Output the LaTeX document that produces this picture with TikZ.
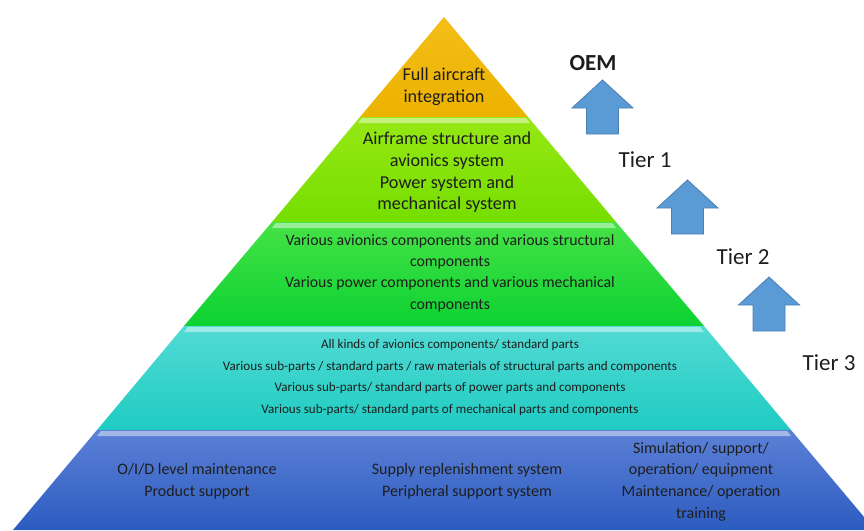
\documentclass[tikz,border=0pt]{standalone}
\usepackage{fontspec}
\setmainfont{Carlito}
\definecolor{txt}{HTML}{1E1E1E}
\definecolor{arrowfill}{HTML}{5B9BD5}
\definecolor{arrowedge}{HTML}{4A7FB5}
\begin{document}
\begin{tikzpicture}[x=1pt,y=-1pt,
  every node/.style={text=txt, align=center, inner sep=0pt},
  big/.style={font=\fontsize{18.2}{21.7}\selectfont},
  mid/.style={font=\fontsize{15.8}{21.3}\selectfont},
  small/.style={font=\fontsize{13.1}{21.5}\selectfont},
  base/.style={font=\fontsize{16}{21.7}\selectfont},
  tier/.style={font=\fontsize{23}{26}\selectfont},
  shine/.style={fill=white, fill opacity=0.45, draw=none},
  pics/uparrow/.style={code={
    \draw[fill=arrowfill, draw=arrowedge, line width=0.8pt, line join=miter]
      (-30.5,0) -- (0,-28) -- (30.5,0) -- (16,0) -- (16,26) -- (-16,26) -- (-16,0) -- cycle;}}
]
\useasboundingbox (0,0) rectangle (864,530);
\fill[white] (0,0) rectangle (864,530);

% pyramid layers (edge slope 0.84 from the apex at (444,17))
\shade[top color={rgb,255:red,244;green,190;blue,24}, bottom color={rgb,255:red,236;green,178;blue,0}]
  (444,17) -- (528,117) -- (360,117) -- cycle;
\shade[top color={rgb,255:red,150;green,232;blue,20}, bottom color={rgb,255:red,118;green,222;blue,0}]
  (360,117) -- (528,117) -- (616,222) -- (272,222) -- cycle;
\shade[top color={rgb,255:red,70;green,226;blue,70}, bottom color={rgb,255:red,12;green,210;blue,50}]
  (272,222) -- (616,222) -- (704,326) -- (184,326) -- cycle;
\shade[top color={rgb,255:red,82;green,218;blue,212}, bottom color={rgb,255:red,30;green,204;blue,194}]
  (184,326) -- (704,326) -- (791,430) -- (97,430) -- cycle;
\shade[top color={rgb,255:red,92;green,128;blue,214}, bottom color={rgb,255:red,44;green,92;blue,192}]
  (97,430) -- (791,430) -- (875,530) -- (13,530) -- cycle;

% bevel highlights along the top of each lower layer
\fill[shine] (362,118) -- (526,118) -- (530,123) -- (358,123) -- cycle;
\fill[shine] (276,223) -- (612,223) -- (616,228) -- (272,228) -- cycle;
\fill[shine] (188,327) -- (700,327) -- (704,332) -- (184,332) -- cycle;
\fill[shine] (101,431) -- (787,431) -- (791,436) -- (97,436) -- cycle;

% layer texts
\node[big] (oem) at (444,87) {Full aircraft\\integration};
\node[big] (tierone) at (447,172.5) {Airframe structure and\\avionics system\\Power system and\\mechanical system};
\node[mid] (tiertwo) at (450,273) {Various avionics components and various structural\\components\\Various power components and various mechanical\\components};
\node[small] (tierthree) at (450,377.5) {All kinds of avionics components/ standard parts\\Various sub-parts / standard parts / raw materials of structural parts and components\\Various sub-parts/ standard parts of power parts and components\\Various sub-parts/ standard parts of mechanical parts and components};
\node[base] (support) at (197,481) {O/I/D level maintenance\\Product support};
\node[base] (supply) at (467,481) {Supply replenishment system\\Peripheral support system};
\node[base] (training) at (701,481.5) {Simulation/ support/\\operation/ equipment\\Maintenance/ operation\\training};

% tier labels and rising arrows
\node[tier, font=\fontsize{23}{26}\bfseries] (oemlabel) at (593,63) {OEM};
\node[tier] (tier1label) at (645,160) {Tier 1};
\node[tier] (tier2label) at (743,257) {Tier 2};
\node[tier] (tier3label) at (829,363) {Tier 3};
\pic at (602.5,108) {uparrow};
\pic at (687.5,208) {uparrow};
\pic at (769,305) {uparrow};
\end{tikzpicture}
\end{document}
